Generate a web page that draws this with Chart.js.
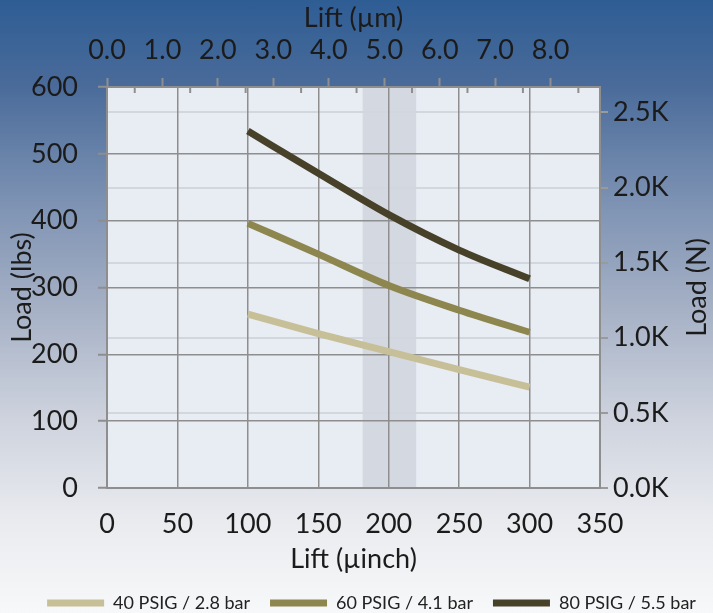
<!DOCTYPE html>
<html>
<head>
<meta charset="utf-8">
<script src="https://cdn.jsdelivr.net/npm/chart.js@4.4.1/dist/chart.umd.min.js"></script>
<style>
  html, body { margin: 0; padding: 0; width: 713px; height: 613px; overflow: hidden; }
  body {
    background: linear-gradient(to bottom,
      #2E5D94 0%, #4A6B9A 14%, #7D92B3 33%, #A5B0C5 50%, #CDD2DD 68%, #E9EBEF 85%, #F7F8F9 100%);
  }
  #wrap { width: 713px; height: 613px; position: relative; }
</style>
</head>
<body>
<div id="wrap"><canvas id="c" width="713" height="613"></canvas></div>
<script>
// ---- data ----
const liftMicroInch = [100, 150, 200, 250, 300];
const load40 = [260, 231, 204, 177, 151];
const load60 = [396, 350, 303, 266, 233];
const load80 = [534, 471, 409, 356, 313];
const seriesNames = ['40 PSIG / 2.8 bar', '60 PSIG / 4.1 bar', '80 PSIG / 5.5 bar'];
const seriesColors = ['#C7BF98', '#8E864F', '#48412A'];
const bandRange = [181.5, 219.5];          // shaded lift band (µinch)
const newtonTicks = [0, 500, 1000, 1500, 2000, 2500];
const umTicks = [0, 1, 2, 3, 4, 5, 6, 7, 8];
const umMinorTicks = [0.5, 1.5, 2.5, 3.5, 4.5, 5.5, 6.5, 7.5, 8.5];
const LBS_TO_N = 4.44822;
const UM_PER_UINCH = 0.0254;
const X_MAX = 350, Y_MAX = 600;

const FONT = 'Lato';
const FS = 27;
Chart.defaults.font.family = FONT;
Chart.defaults.color = '#1b1b1b';

const GRID = '#8e8e8e';

const toPts = (arr) => liftMicroInch.map((x, i) => ({ x: x, y: arr[i] }));

const bgPlugin = {
  id: 'bg',
  beforeDraw(chart) {
    const { ctx, chartArea: a, scales } = chart;
    ctx.save();
    ctx.fillStyle = '#E8ECF3';
    ctx.fillRect(a.left, a.top, a.right - a.left, a.bottom - a.top);
    const x1 = scales.x.getPixelForValue(bandRange[0]);
    const x2 = scales.x.getPixelForValue(bandRange[1]);
    ctx.fillStyle = '#D4D8E0';
    ctx.fillRect(x1, a.top, x2 - x1, a.bottom - a.top + 1);
    ctx.restore();
  },
  afterDraw(chart) {
    const { ctx, chartArea: a, scales } = chart;
    ctx.save();
    // inner minor ticks on the top (µm) axis
    ctx.strokeStyle = GRID;
    ctx.lineWidth = 2;
    umMinorTicks.forEach(v => {
      const px = scales.x2.getPixelForValue(v);
      ctx.beginPath();
      ctx.moveTo(px, a.top);
      ctx.lineTo(px, a.top + 6);
      ctx.stroke();
    });
    // right axis title, reading bottom-to-top
    ctx.fillStyle = '#1b1b1b';
    ctx.font = FS + 'px ' + FONT;
    ctx.textAlign = 'center';
    ctx.textBaseline = 'middle';
    ctx.translate(697, (a.top + a.bottom) / 2);
    ctx.rotate(-Math.PI / 2);
    ctx.fillText('Load (N)', 0, 0);
    ctx.restore();
  }
};

new Chart(document.getElementById('c'), {
  type: 'line',
  data: {
    datasets: [load40, load60, load80].map((arr, i) => ({
      label: seriesNames[i],
      data: toPts(arr),
      borderColor: seriesColors[i],
      backgroundColor: seriesColors[i],
      borderWidth: 7,
      borderCapStyle: 'butt',
      pointRadius: 0,
      cubicInterpolationMode: 'monotone',
      fill: false
    }))
  },
  options: {
    responsive: false,
    animation: false,
    layout: { padding: { left: 20, right: -10, top: 0, bottom: -9 } },
    plugins: {
      tooltip: { enabled: false },
      legend: {
        position: 'bottom',
        labels: {
          boxWidth: 57,
          boxHeight: 7,
          padding: 20,
          color: '#222',
          font: { size: 18, family: FONT },
          generateLabels(chart) {
            return Chart.defaults.plugins.legend.labels.generateLabels(chart)
              .map(it => Object.assign(it, { lineWidth: 0, fillStyle: it.strokeStyle }));
          }
        }
      }
    },
    scales: {
      x: {
        type: 'linear', position: 'bottom', min: 0, max: X_MAX,
        afterFit(s) { s.height = 86; },
        ticks: { stepSize: 50, font: { size: FS }, padding: 20, maxRotation: 0, autoSkip: false },
        grid: { color: GRID, lineWidth: 1.5, drawTicks: false },
        border: { color: GRID, width: 2 },
        title: { display: true, text: 'Lift (µinch)', font: { size: FS }, padding: { top: 0, bottom: -1 } }
      },
      x2: {
        type: 'linear', position: 'top', min: 0, max: X_MAX * UM_PER_UINCH,
        afterFit(s) { s.height = 87; },
        afterBuildTicks(s) { s.ticks = umTicks.map(v => ({ value: v })); },
        ticks: { font: { size: FS }, padding: 12, maxRotation: 0, autoSkip: false,
                 callback: v => Number(v).toFixed(1) },
        grid: { drawOnChartArea: false, drawTicks: true, tickLength: 9, tickColor: GRID, tickWidth: 2 },
        border: { color: GRID, width: 2 },
        title: { display: true, text: 'Lift (µm)', font: { size: FS }, padding: { top: 2, bottom: 0 } }
      },
      y: {
        type: 'linear', position: 'left', min: 0, max: Y_MAX,
        afterFit(s) { s.width = 87; },
        ticks: { stepSize: 100, font: { size: FS }, padding: 20 },
        grid: { color: GRID, lineWidth: 1.5, tickLength: 9, tickColor: GRID, tickWidth: 2 },
        border: { color: GRID, width: 2 },
        title: { display: true, text: 'Load (lbs)', font: { size: FS }, padding: { top: -14, bottom: 0 } }
      },
      y2: {
        type: 'linear', position: 'right', min: 0, max: Y_MAX * LBS_TO_N,
        afterFit(s) { s.width = 123; },
        afterBuildTicks(s) { s.ticks = newtonTicks.map(v => ({ value: v })); },
        ticks: { font: { size: FS }, padding: 5, autoSkip: false,
                 callback: v => (v / 1000).toFixed(1) + 'K' },
        grid: { color: '#D2D6DE', lineWidth: 2, tickLength: 8, tickColor: '#9a9a9a', tickWidth: 2, z: -2 },
        border: { color: GRID, width: 2 },
        title: { display: false }
      }
    }
  },
  plugins: [bgPlugin]
});
</script>
</body>
</html>
